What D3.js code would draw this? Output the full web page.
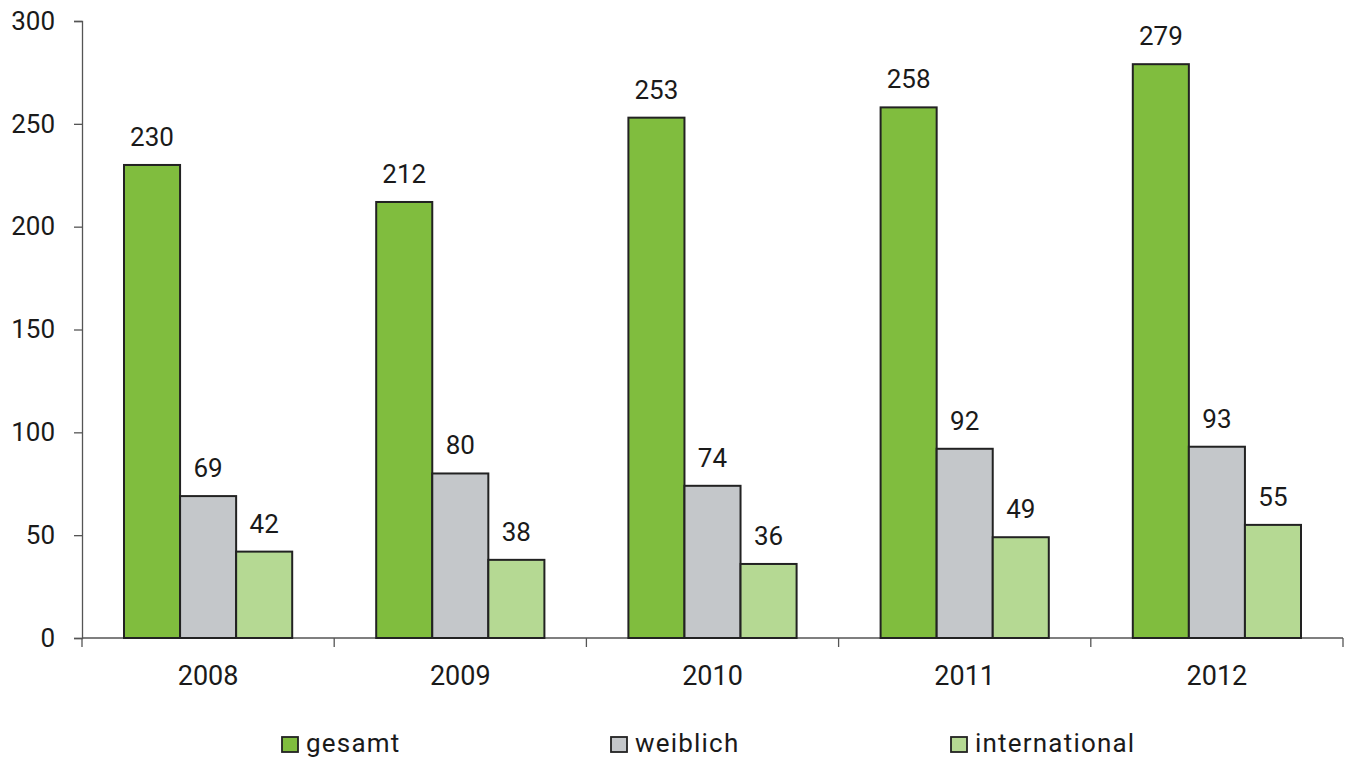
<!DOCTYPE html>
<html>
<head>
<meta charset="utf-8">
<script src="https://cdn.jsdelivr.net/npm/d3@7"></script>
<style>
  body { margin: 0; background: #fff; }
  text { font-family: Roboto, "Liberation Sans", sans-serif; fill: #1a1a1a; }
</style>
</head>
<body>
<div id="chart"></div>
<script>
const years = ["2008", "2009", "2010", "2011", "2012"];
const seriesNames = ["gesamt", "weiblich", "international"];
const gesamt = [230, 212, 253, 258, 279];
const weiblich = [69, 80, 74, 92, 93];
const international = [42, 38, 36, 49, 55];
const yTicks = [0, 50, 100, 150, 200, 250, 300];
const colors = ["#80bd3e", "#c4c7ca", "#b5d993"];

const width = 1349;
const height = 762;
const margin = { top: 21, right: 6, bottom: 124, left: 82 };

const svg = d3.select("#chart")
  .append("svg")
  .attr("width", width)
  .attr("height", height)
  .style("display", "block");

const chart = svg.append("g")
  .attr("transform", `translate(${margin.left},${margin.top})`);

const chartWidth = width - margin.left - margin.right;
const chartHeight = height - margin.top - margin.bottom;

const values = [gesamt, weiblich, international];
const table = years.map((y, i) => ({
  year: y,
  items: seriesNames.map((s, j) => ({ key: s, value: values[j][i] }))
}));

const x0 = d3.scaleBand().domain(years).range([0, chartWidth]).paddingInner(0).paddingOuter(0);
const x1 = d3.scaleBand().domain(seriesNames).range([42, x0.bandwidth() - 42]);
const y = d3.scaleLinear().domain([0, 300]).range([chartHeight, 0]);
const color = d3.scaleOrdinal().domain(seriesNames).range(colors);

// y axis
const yAxis = chart.append("g")
  .call(d3.axisLeft(y).tickValues(yTicks).tickSize(8).tickPadding(26));
yAxis.select(".domain").attr("stroke", "#555").attr("stroke-width", 1.3);
yAxis.selectAll(".tick line").attr("stroke", "#555").attr("stroke-width", 1.3);
yAxis.selectAll(".tick text")
  .attr("x", -27)
  .style("font-size", "26px")
  .attr("fill", "#1a1a1a");

// x axis: ticks at band boundaries
const xAxis = chart.append("g").attr("transform", `translate(0,${chartHeight})`);
xAxis.append("line")
  .attr("x1", 0).attr("x2", chartWidth)
  .attr("stroke", "#555").attr("stroke-width", 1.3);
const bounds = years.map(d => x0(d)).concat([chartWidth]);
xAxis.selectAll(".xt")
  .data(bounds)
  .join("line")
  .attr("x1", d => d).attr("x2", d => d)
  .attr("y1", 0).attr("y2", 9)
  .attr("stroke", "#555").attr("stroke-width", 1.3);
xAxis.selectAll(".xl")
  .data(years)
  .join("text")
  .attr("x", d => x0(d) + x0.bandwidth() / 2)
  .attr("y", 47)
  .attr("text-anchor", "middle")
  .style("font-size", "27px")
  .text(d => d);

// bars
const groups = chart.selectAll(".grp")
  .data(table)
  .join("g")
  .attr("transform", d => `translate(${x0(d.year)},0)`);

groups.selectAll("rect")
  .data(d => d.items)
  .join("rect")
  .attr("x", d => x1(d.key))
  .attr("y", d => y(d.value))
  .attr("width", x1.bandwidth())
  .attr("height", d => chartHeight - y(d.value))
  .attr("fill", d => color(d.key))
  .attr("stroke", "#222")
  .attr("stroke-width", 2);

groups.selectAll(".val")
  .data(d => d.items)
  .join("text")
  .attr("class", "val")
  .attr("x", d => x1(d.key) + x1.bandwidth() / 2)
  .attr("y", d => y(d.value) - 19)
  .attr("text-anchor", "middle")
  .style("font-size", "26px")
  .text(d => d.value);

// legend
const legendX = [282, 611, 951];
const legend = svg.append("g").attr("transform", "translate(0,744)");
seriesNames.forEach((s, i) => {
  legend.append("rect")
    .attr("x", legendX[i])
    .attr("y", -7)
    .attr("width", 16)
    .attr("height", 15)
    .attr("fill", color(s))
    .attr("stroke", "#222")
    .attr("stroke-width", 1.8);
  legend.append("text")
    .attr("x", legendX[i] + 24)
    .attr("y", 8)
    .style("font-size", "26px")
    .style("letter-spacing", "1.2px")
    .text(s);
});
</script>
</body>
</html>
